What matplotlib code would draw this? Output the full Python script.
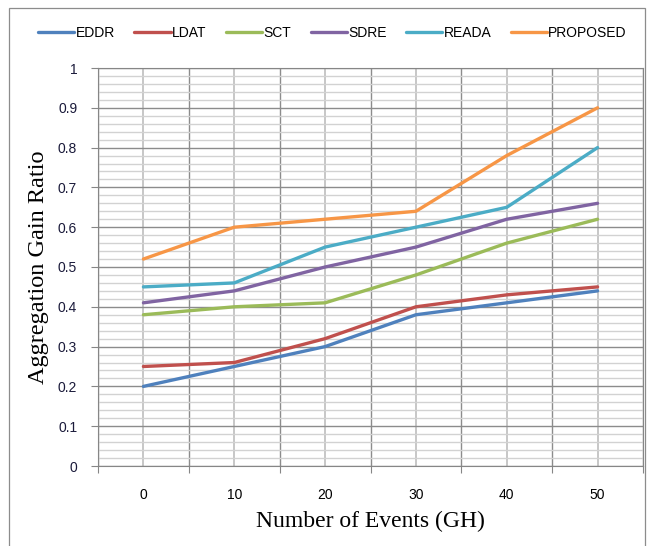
import numpy as np
import matplotlib.pyplot as plt
from matplotlib.patches import Rectangle

# Aggregation gain ratio per scheme vs. number of events
events = [0, 10, 20, 30, 40, 50]
eddr = [0.20, 0.25, 0.30, 0.38, 0.41, 0.44]
ldat = [0.25, 0.26, 0.32, 0.40, 0.43, 0.45]
sct = [0.38, 0.40, 0.41, 0.48, 0.56, 0.62]
sdre = [0.41, 0.44, 0.50, 0.55, 0.62, 0.66]
reada = [0.45, 0.46, 0.55, 0.60, 0.65, 0.80]
proposed = [0.52, 0.60, 0.62, 0.64, 0.78, 0.90]

series = [('EDDR', eddr, '#4F81BD'),
          ('LDAT', ldat, '#C0504D'),
          ('SCT', sct, '#9BBB59'),
          ('SDRE', sdre, '#8064A2'),
          ('READA', reada, '#4BACC6'),
          ('PROPOSED', proposed, '#F79646')]

fig = plt.figure(figsize=(6.52, 5.46), dpi=100)
ax = fig.add_axes([98/652, 1-466/546, 545/652, 398/546])

# chart area frame
fig.patches.append(Rectangle((9/652, -0.01), 636/652, 1-8/546+0.01, transform=fig.transFigure,
                             fill=False, edgecolor='#8c8c8c', linewidth=0.9))

pos = np.arange(len(events))
for name, vals, col in series:
    ax.plot(pos, vals, color=col, linewidth=2.4, label=name, solid_capstyle='round', zorder=3)

ax.set_xlim(-0.5, len(events) - 0.5)
ax.set_ylim(0, 1)

# category boundaries carry the tick marks, labels sit at the centres
ax.set_xticks(np.arange(-0.5, len(events)), minor=False)
ax.set_xticklabels([])
ax.set_xticks(pos, minor=True)
ax.set_xticklabels([str(e) for e in events], minor=True, fontsize=10, family='Liberation Sans')
ax.tick_params(axis='x', which='major', length=5, color='#868686', direction='out')
ax.tick_params(axis='x', which='minor', length=0, pad=16)

ax.set_yticks(np.arange(0, 1.01, 0.1))
ax.set_yticklabels(['0', '0.1', '0.2', '0.3', '0.4', '0.5', '0.6', '0.7', '0.8', '0.9', '1'],
                   fontsize=10, family='Liberation Sans', color='#1a1a3a')
ax.set_yticks(np.arange(0, 1.0, 0.02), minor=True)
ax.tick_params(axis='y', which='major', length=5, color='#868686', direction='out', pad=10)
ax.tick_params(axis='y', which='minor', length=0)

ax.yaxis.grid(True, which='minor', color='#d2d2d2', linewidth=1.0, zorder=0)
ax.grid(True, which='major', color='#8c8c8c', linewidth=1.0, zorder=0)
# lighter verticals through each category centre
for p in pos:
    ax.axvline(p, color='#bdbdbd', linewidth=1.2, zorder=0.5)
ax.set_axisbelow(True)
for s in ax.spines.values():
    s.set_color('#868686')

ax.set_xlabel('Number of Events (GH)', family='Liberation Serif', fontsize=17, labelpad=6)
ax.set_ylabel('Aggregation Gain Ratio', family='Liberation Serif', fontsize=17.5, labelpad=6)

fig.legend(loc='center', bbox_to_anchor=(0.51, 1-33/546), ncol=6, frameon=False,
           prop={'family': 'Liberation Sans', 'size': 10}, handlelength=2.6,
           handletextpad=0.1, columnspacing=1.4)

fig.savefig('out.png', dpi=100)
